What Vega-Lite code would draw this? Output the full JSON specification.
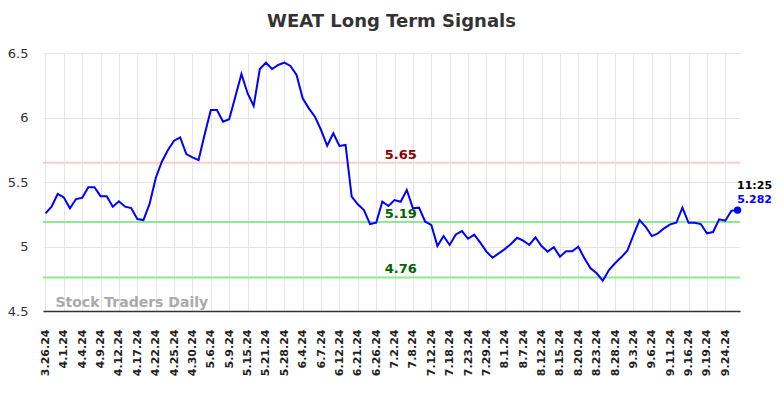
{
  "$schema": "https://vega.github.io/schema/vega-lite/v6.json",
  "width": 697,
  "height": 258,
  "autosize": {"type": "none"},
  "padding": {"left": 43, "top": 53, "right": 44, "bottom": 87},
  "background": "white",
  "config": {
    "font": "DejaVu Sans",
    "view": {"stroke": null},
    "axis": {"gridColor": "#e6e6e6", "gridWidth": 1}
  },
  "title": {
    "text": "WEAT Long Term Signals",
    "fontSize": 18,
    "fontWeight": "bold",
    "color": "#333333",
    "anchor": "middle",
    "offset": 16
  },
  "resolve": {"scale": {"color": "independent"}},
  "datasets": {
    "prices": [
      {"d": "3.26.24", "v": 5.257}, {"d": "3.27.24", "v": 5.309}, {"d": "3.28.24", "v": 5.407},
      {"d": "4.1.24", "v": 5.38}, {"d": "4.2.24", "v": 5.296}, {"d": "4.3.24", "v": 5.368},
      {"d": "4.4.24", "v": 5.378}, {"d": "4.5.24", "v": 5.459}, {"d": "4.8.24", "v": 5.459},
      {"d": "4.9.24", "v": 5.39}, {"d": "4.10.24", "v": 5.389}, {"d": "4.11.24", "v": 5.309},
      {"d": "4.12.24", "v": 5.35}, {"d": "4.15.24", "v": 5.309}, {"d": "4.16.24", "v": 5.298},
      {"d": "4.17.24", "v": 5.213}, {"d": "4.18.24", "v": 5.205}, {"d": "4.19.24", "v": 5.33},
      {"d": "4.22.24", "v": 5.529}, {"d": "4.23.24", "v": 5.657}, {"d": "4.24.24", "v": 5.748},
      {"d": "4.25.24", "v": 5.82}, {"d": "4.26.24", "v": 5.846}, {"d": "4.29.24", "v": 5.717},
      {"d": "4.30.24", "v": 5.691}, {"d": "5.1.24", "v": 5.67}, {"d": "5.3.24", "v": 5.87},
      {"d": "5.6.24", "v": 6.058}, {"d": "5.7.24", "v": 6.058}, {"d": "5.8.24", "v": 5.968},
      {"d": "5.9.24", "v": 5.986}, {"d": "5.10.24", "v": 6.16}, {"d": "5.14.24", "v": 6.337},
      {"d": "5.15.24", "v": 6.188}, {"d": "5.16.24", "v": 6.089}, {"d": "5.20.24", "v": 6.376},
      {"d": "5.21.24", "v": 6.425}, {"d": "5.22.24", "v": 6.376}, {"d": "5.24.24", "v": 6.407},
      {"d": "5.28.24", "v": 6.425}, {"d": "5.30.24", "v": 6.4}, {"d": "6.3.24", "v": 6.33},
      {"d": "6.4.24", "v": 6.149}, {"d": "6.5.24", "v": 6.071}, {"d": "6.6.24", "v": 6.006},
      {"d": "6.7.24", "v": 5.903}, {"d": "6.10.24", "v": 5.781}, {"d": "6.11.24", "v": 5.878},
      {"d": "6.12.24", "v": 5.779}, {"d": "6.17.24", "v": 5.787}, {"d": "6.20.24", "v": 5.386},
      {"d": "6.21.24", "v": 5.327}, {"d": "6.24.24", "v": 5.283}, {"d": "6.25.24", "v": 5.174},
      {"d": "6.26.24", "v": 5.184}, {"d": "6.27.24", "v": 5.347}, {"d": "7.1.24", "v": 5.314},
      {"d": "7.2.24", "v": 5.36}, {"d": "7.3.24", "v": 5.347}, {"d": "7.5.24", "v": 5.438},
      {"d": "7.8.24", "v": 5.296}, {"d": "7.10.24", "v": 5.301}, {"d": "7.11.24", "v": 5.192},
      {"d": "7.12.24", "v": 5.167}, {"d": "7.15.24", "v": 5.004}, {"d": "7.17.24", "v": 5.081},
      {"d": "7.18.24", "v": 5.012}, {"d": "7.19.24", "v": 5.094}, {"d": "7.22.24", "v": 5.12},
      {"d": "7.23.24", "v": 5.06}, {"d": "7.24.24", "v": 5.092}, {"d": "7.26.24", "v": 5.03},
      {"d": "7.29.24", "v": 4.96}, {"d": "7.30.24", "v": 4.913}, {"d": "7.31.24", "v": 4.947},
      {"d": "8.1.24", "v": 4.98}, {"d": "8.5.24", "v": 5.019}, {"d": "8.6.24", "v": 5.068},
      {"d": "8.7.24", "v": 5.045}, {"d": "8.8.24", "v": 5.012}, {"d": "8.9.24", "v": 5.071},
      {"d": "8.12.24", "v": 5.004}, {"d": "8.13.24", "v": 4.96}, {"d": "8.14.24", "v": 4.994},
      {"d": "8.15.24", "v": 4.921}, {"d": "8.16.24", "v": 4.963}, {"d": "8.19.24", "v": 4.963},
      {"d": "8.20.24", "v": 4.998}, {"d": "8.21.24", "v": 4.909}, {"d": "8.22.24", "v": 4.831},
      {"d": "8.23.24", "v": 4.792}, {"d": "8.26.24", "v": 4.735}, {"d": "8.27.24", "v": 4.818},
      {"d": "8.28.24", "v": 4.87}, {"d": "8.29.24", "v": 4.916}, {"d": "8.30.24", "v": 4.967},
      {"d": "9.3.24", "v": 5.089}, {"d": "9.4.24", "v": 5.205}, {"d": "9.5.24", "v": 5.153},
      {"d": "9.6.24", "v": 5.081}, {"d": "9.9.24", "v": 5.102}, {"d": "9.10.24", "v": 5.141},
      {"d": "9.11.24", "v": 5.172}, {"d": "9.12.24", "v": 5.184}, {"d": "9.13.24", "v": 5.301},
      {"d": "9.16.24", "v": 5.184}, {"d": "9.17.24", "v": 5.184}, {"d": "9.18.24", "v": 5.174},
      {"d": "9.19.24", "v": 5.102}, {"d": "9.20.24", "v": 5.112}, {"d": "9.23.24", "v": 5.211},
      {"d": "9.24.24", "v": 5.2}, {"d": "9.25.24", "v": 5.277}, {"d": "9.26.24", "v": 5.282}
    ],
    "levels": [
      {"level": "high", "v": 5.65, "label": "5.65", "d": "7.3.24"},
      {"level": "mid", "v": 5.19, "label": "5.19", "d": "7.3.24"},
      {"level": "low", "v": 4.76, "label": "4.76", "d": "7.3.24"}
    ],
    "last": [
      {"d": "9.26.24", "v": 5.282, "time": "11:25", "price": "5.282"}
    ],
    "mark": [
      {"d": "3.26.24", "v": 4.5, "t": "Stock Traders Daily"}
    ]
  },
  "layer": [
    {
      "data": {"name": "levels"},
      "mark": {"type": "rule", "strokeWidth": 2},
      "encoding": {
        "y": {"field": "v", "type": "quantitative", "scale": {"domain": [4.5, 6.5], "nice": false, "zero": false}},
        "color": {"field": "level", "type": "nominal", "legend": null,
          "scale": {"domain": ["high", "mid", "low"], "range": ["#ffcccc", "#90e890", "#90e890"]}}
      }
    },
    {
      "data": {"name": "mark"},
      "mark": {"type": "text", "align": "left", "baseline": "alphabetic", "dx": 10, "dy": -4, "fontSize": 14, "fontWeight": "bold", "color": "#aaaaaa"},
      "encoding": {
        "x": {"field": "d", "type": "ordinal", "sort": null},
        "y": {"field": "v", "type": "quantitative"},
        "text": {"field": "t"}
      }
    },
    {
      "data": {"name": "prices"},
      "mark": {"type": "line", "color": "#0000ff", "strokeWidth": 2},
      "encoding": {
        "x": {"field": "d", "type": "ordinal", "sort": null,
          "scale": {"type": "point", "padding": 0.4},
          "axis": {
            "title": null,
            "values": ["3.26.24","4.1.24","4.4.24","4.9.24","4.12.24","4.17.24","4.22.24","4.25.24","4.30.24","5.6.24","5.9.24","5.15.24","5.21.24","5.28.24","6.4.24","6.7.24","6.12.24","6.21.24","6.26.24","7.2.24","7.8.24","7.12.24","7.18.24","7.23.24","7.29.24","8.1.24","8.7.24","8.12.24","8.15.24","8.20.24","8.23.24","8.28.24","9.3.24","9.6.24","9.11.24","9.16.24","9.19.24","9.24.24"],
            "labelAngle": -90,
            "labelFontSize": 11,
            "labelFontWeight": "bold",
            "labelColor": "#222222",
            "labelPadding": 18,
            "ticks": false,
            "domainColor": "#333333",
            "domainWidth": 1.5,
            "grid": true
          }
        },
        "y": {"field": "v", "type": "quantitative",
          "scale": {"domain": [4.5, 6.5], "nice": false, "zero": false},
          "axis": {
            "title": null,
            "values": [4.5, 5, 5.5, 6, 6.5],
            "format": "~g",
            "labelFontSize": 13,
            "labelColor": "#333333",
            "labelPadding": 15,
            "ticks": false,
            "domain": false,
            "grid": true
          }
        }
      }
    },
    {
      "data": {"name": "levels"},
      "mark": {"type": "text", "fontSize": 13, "fontWeight": "bold", "baseline": "middle", "align": "center", "dy": -8},
      "encoding": {
        "x": {"field": "d", "type": "ordinal", "sort": null},
        "y": {"field": "v", "type": "quantitative"},
        "text": {"field": "label"},
        "color": {"field": "level", "type": "nominal", "legend": null,
          "scale": {"domain": ["high", "mid", "low"], "range": ["#8b0000", "#006400", "#006400"]}}
      }
    },
    {
      "data": {"name": "last"},
      "mark": {"type": "point", "filled": true, "size": 55, "color": "#0000ff", "opacity": 1},
      "encoding": {
        "x": {"field": "d", "type": "ordinal", "sort": null},
        "y": {"field": "v", "type": "quantitative"}
      }
    },
    {
      "data": {"name": "last"},
      "mark": {"type": "text", "fontSize": 11, "fontWeight": "bold", "color": "#000000", "align": "center", "baseline": "middle", "dx": 17, "dy": -24},
      "encoding": {
        "x": {"field": "d", "type": "ordinal", "sort": null},
        "y": {"field": "v", "type": "quantitative"},
        "text": {"field": "time"}
      }
    },
    {
      "data": {"name": "last"},
      "mark": {"type": "text", "fontSize": 11, "fontWeight": "bold", "color": "#0000ff", "align": "center", "baseline": "middle", "dx": 17, "dy": -10},
      "encoding": {
        "x": {"field": "d", "type": "ordinal", "sort": null},
        "y": {"field": "v", "type": "quantitative"},
        "text": {"field": "price"}
      }
    }
  ]
}
